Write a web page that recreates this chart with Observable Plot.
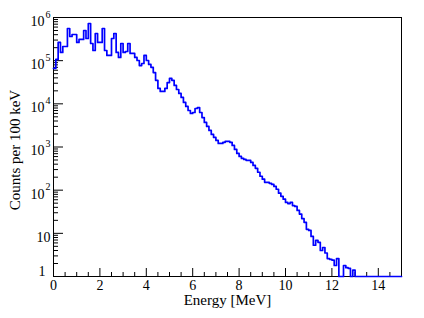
<!DOCTYPE html>
<html><head><meta charset="utf-8">
<script src="https://cdn.jsdelivr.net/npm/d3@7"></script>
<script src="https://cdn.jsdelivr.net/npm/@observablehq/plot@0.6"></script>
<style>body{margin:0;background:#fff;} svg{display:block;}</style>
</head><body><div id="chart"></div>
<script>
// Histogram: counts per 100 keV bin, 0–15 MeV (150 bins)
const binWidthMeV = 0.1;
const counts = [
  66000, 107000, 264000, 155000, 213000, 213000, 556000, 363000, 404000, 404000,
  264000, 310000, 310000, 500000, 326000, 726000, 250000, 172000, 426000, 264000,
  264000, 556000, 172000, 132000, 132000, 326000, 426000, 155000, 119000, 250000,
  155000, 163000, 250000, 147000, 147000, 119000, 101000, 77000, 86000, 132000,
  101000, 82000, 70000, 53000, 35000, 22700, 19400, 19400, 22700, 31000,
  39000, 35000, 26700, 21500, 17400, 14100, 10800, 8700, 7000, 6000,
  6300, 7800, 8200, 6300, 4800, 3700, 3000, 2420, 1960, 1670,
  1420, 1210, 1210, 1280, 1350, 1350, 1280, 1090, 880, 711,
  606, 545, 516, 490, 490, 440, 375, 320, 260, 210,
  180, 152, 152, 144, 136, 122, 105, 85, 72, 62,
  52, 49, 52, 44, 42, 34, 28, 22, 18, 12.4,
  11.7, 8.5, 5.3, 6.9, 6.2, 4.0, 4.7, 3.5, 2.6, 2.5,
  2.4, 1.8, 2.6, 0, 0, 1.8, 1.6, 1.55, 0, 1.4,
  0, 0, 0, 0, 0, 0, 0, 0, 0, 0,
  0, 0, 0, 0, 0, 0, 0, 0, 0, 0
];
const xMajorTicks = [0, 2, 4, 6, 8, 10, 12, 14];
const xMinorTicks = [0.5, 1, 1.5, 2.5, 3, 3.5, 4.5, 5, 5.5, 6.5, 7, 7.5, 8.5, 9, 9.5,
                     10.5, 11, 11.5, 12.5, 13, 13.5, 14.5];
const yMajorTicks = [1, 10, 100, 1000, 10000, 100000, 1000000];
const yLabelBase = ["1", "10", "10", "10", "10", "10", "10"];
const yLabelExp = ["", "", "2", "3", "4", "5", "6"];
const yMinorMultipliers = [2, 3, 4, 5, 6, 7, 8, 9];
const xTitle = "Energy [MeV]";
const yTitle = "Counts per 100 keV";

const W = 424, H = 318, mL = 53, mR = 23, mT = 17, mB = 42;
const plotW = W - mL - mR, plotH = H - mT - mB;

const yMinorTicks = yMajorTicks.slice(0, -1).flatMap(d => yMinorMultipliers.map(m => d * m));

const steps = counts.map((c, i) => ({x: i * binWidthMeV, y: Math.max(c, 1)}));
steps.push({x: counts.length * binWidthMeV, y: Math.max(counts[counts.length - 1], 1)});

const yLabels = yMajorTicks.map((v, i) => ({v, base: yLabelBase[i], exp: yLabelExp[i]}));
const font = "'Liberation Serif', 'Times New Roman', serif";

const chart = Plot.plot({
  width: W, height: H,
  marginLeft: mL, marginRight: mR, marginTop: mT, marginBottom: mB,
  style: {fontFamily: font, fontSize: "14px", background: "white", color: "black"},
  x: {domain: [0, 15], axis: null},
  y: {type: "log", domain: [1, 1e6], axis: null},
  marks: [
    Plot.frame({stroke: "black", strokeWidth: 1}),
    Plot.ruleX(xMajorTicks, {x: d => d, stroke: "black", insetTop: plotH - 8}),
    Plot.ruleX(xMinorTicks, {x: d => d, stroke: "black", insetTop: plotH - 4}),
    Plot.ruleY(yMajorTicks, {y: d => d, stroke: "black", insetRight: plotW - 10}),
    Plot.ruleY(yMinorTicks, {y: d => d, stroke: "black", insetRight: plotW - 5}),
    Plot.line(steps, {x: "x", y: "y", curve: "step-after", stroke: "#0000ff", strokeWidth: 1.7}),
    Plot.text(xMajorTicks, {x: d => d, frameAnchor: "bottom", text: d => String(d), textAnchor: "middle", lineAnchor: "top", dy: 4, fontSize: 14}),
    Plot.text(yLabels.filter(d => d.exp), {y: "v", frameAnchor: "left", text: "base", textAnchor: "end", lineAnchor: "middle", dx: -9, dy: 4, fontSize: 14}),
    Plot.text(yLabels.filter(d => d.exp), {y: "v", frameAnchor: "left", text: "exp", textAnchor: "start", lineAnchor: "middle", dx: -8, dy: -3, fontSize: 10}),
    Plot.text(yLabels.filter(d => !d.exp && d.base === "10"), {y: "v", frameAnchor: "left", text: "base", textAnchor: "end", lineAnchor: "middle", dx: -3, dy: 4, fontSize: 14}),
    Plot.text(yLabels.filter(d => !d.exp && d.base === "1"), {y: "v", frameAnchor: "left", text: "base", textAnchor: "end", lineAnchor: "middle", dx: -8, dy: -5, fontSize: 14}),
    Plot.text([xTitle], {frameAnchor: "bottom", text: d => d, textAnchor: "middle", lineAnchor: "top", dy: 18, fontSize: 15}),
    Plot.text([yTitle], {frameAnchor: "left", text: d => d, rotate: -90, textAnchor: "middle", lineAnchor: "middle", dx: -38, dy: 3, fontSize: 15})
  ]
});
document.getElementById("chart").appendChild(chart);
</script>
</body></html>
